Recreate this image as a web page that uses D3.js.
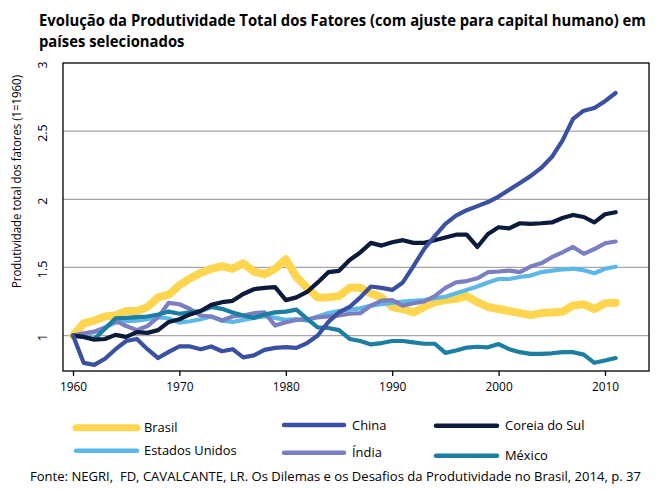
<!DOCTYPE html>
<html><head><meta charset="utf-8">
<script src="https://cdn.jsdelivr.net/npm/d3@7"></script>
<style>body{margin:0;background:#fff}svg{display:block}</style>
</head><body><svg id="c" width="661" height="491"></svg>
<script>
const years = [1960,1961,1962,1963,1964,1965,1966,1967,1968,1969,
  1970,1971,1972,1973,1974,1975,1976,1977,1978,1979,
  1980,1981,1982,1983,1984,1985,1986,1987,1988,1989,
  1990,1991,1992,1993,1994,1995,1996,1997,1998,1999,
  2000,2001,2002,2003,2004,2005,2006,2007,2008,2009,
  2010,2011];
const brasil = [1.00,1.09,1.11,1.14,1.15,1.18,1.18,1.21,1.28,1.30,
  1.37,1.42,1.46,1.49,1.51,1.49,1.53,1.47,1.45,1.49,
  1.56,1.43,1.35,1.28,1.28,1.29,1.35,1.35,1.31,1.28,
  1.21,1.195,1.17,1.21,1.245,1.26,1.27,1.29,1.245,1.21,
  1.195,1.18,1.165,1.15,1.165,1.17,1.175,1.22,1.23,1.195,
  1.237,1.24];
const china = [1.00,0.80,0.785,0.83,0.90,0.96,0.975,0.90,0.835,0.88,
  0.92,0.92,0.90,0.92,0.885,0.90,0.84,0.855,0.895,0.91,
  0.915,0.91,0.945,1.00,1.10,1.17,1.21,1.28,1.36,1.35,
  1.335,1.39,1.51,1.635,1.73,1.82,1.88,1.92,1.95,1.98,
  2.02,2.07,2.12,2.17,2.23,2.31,2.43,2.59,2.65,2.67,
  2.72,2.78];
const coreia = [1.00,0.99,0.97,0.975,1.005,0.99,1.025,1.02,1.04,1.10,
  1.12,1.155,1.18,1.225,1.245,1.255,1.305,1.34,1.35,1.355,
  1.26,1.28,1.32,1.39,1.465,1.475,1.555,1.61,1.68,1.66,
  1.685,1.70,1.68,1.68,1.70,1.72,1.74,1.74,1.65,1.745,
  1.795,1.787,1.824,1.82,1.824,1.83,1.863,1.885,1.87,1.83,
  1.89,1.905];
const eua = [1.00,1.01,1.025,1.06,1.095,1.105,1.11,1.12,1.135,1.125,
  1.095,1.105,1.12,1.14,1.11,1.10,1.115,1.13,1.14,1.13,
  1.115,1.12,1.11,1.14,1.165,1.18,1.19,1.20,1.22,1.23,
  1.24,1.25,1.255,1.26,1.275,1.285,1.31,1.335,1.36,1.39,
  1.415,1.415,1.43,1.44,1.465,1.477,1.485,1.49,1.48,1.457,
  1.49,1.505];
const india = [1.00,1.017,1.03,1.055,1.11,1.07,1.04,1.07,1.135,1.24,
  1.23,1.195,1.147,1.14,1.11,1.14,1.147,1.164,1.17,1.073,
  1.098,1.115,1.12,1.134,1.14,1.147,1.16,1.164,1.22,1.257,
  1.26,1.22,1.237,1.25,1.29,1.35,1.39,1.40,1.42,1.465,
  1.47,1.477,1.465,1.506,1.53,1.575,1.61,1.65,1.60,1.635,
  1.677,1.69];
const mexico = [1.00,0.99,0.975,1.05,1.127,1.13,1.135,1.14,1.155,1.176,
  1.16,1.17,1.18,1.21,1.196,1.17,1.147,1.13,1.154,1.17,
  1.176,1.19,1.122,1.06,1.056,1.04,0.975,0.96,0.935,0.945,
  0.96,0.96,0.95,0.94,0.94,0.873,0.89,0.912,0.918,0.914,
  0.938,0.90,0.878,0.866,0.866,0.87,0.878,0.878,0.86,0.80,
  0.817,0.835];
const seriesNames = ["Brasil","China","Coreia do Sul","Estados Unidos","Índia","México"];
const yTicks = [1, 1.5, 2, 2.5, 3];
const yTickLabels = ["1","1.5","2","2.5","3"];
const xTicks = [1960,1970,1980,1990,2000,2010];
const titleLines = ["Evolução da Produtividade Total dos Fatores (com ajuste para capital humano) em","países selecionados"];
const yLabel = "Produtividade total dos fatores (1=1960)";
const source = "Fonte: NEGRI,  FD, CAVALCANTE, LR. Os Dilemas e os Desafios da Produtividade no Brasil, 2014, p. 37";

const svg = d3.select("#c");
const FONT = "'Open Sans', 'Noto Sans', sans-serif";
const L = 63, R = 649, T = 63, B = 371;
const x = d3.scaleLinear().domain([1960, 2010]).range([73, 605]);
const y = d3.scaleLinear().domain([0.74, 3]).range([B, T]);

const styles = {
  "Brasil": {color:"#fdd54f", w:8, data:brasil},
  "China": {color:"#3a50a2", w:4.2, data:china},
  "Coreia do Sul": {color:"#0c1a3b", w:4.2, data:coreia},
  "Estados Unidos": {color:"#5db8e8", w:4.2, data:eua},
  "Índia": {color:"#7b7fc2", w:4.2, data:india},
  "México": {color:"#1b7ea2", w:4.2, data:mexico}
};

// squeeze text horizontally (narrow font look) keeping its height
function squeeze(sel, ratio) {
  sel.each(function() {
    const w = this.getComputedTextLength();
    d3.select(this).attr("textLength", w * ratio).attr("lengthAdjust", "spacingAndGlyphs");
  });
}

// gridlines
svg.append("g").selectAll("line").data(yTicks.filter(d => d < 3)).join("line")
  .attr("x1", L).attr("x2", R).attr("y1", d => y(d)).attr("y2", d => y(d))
  .attr("stroke", "#a6a6a6").attr("stroke-width", 1.2);

// lines
const line = d3.line().x((d, i) => x(years[i])).y(d => y(d)).curve(d3.curveLinear);
const drawOrder = ["Brasil","Estados Unidos","Índia","México","Coreia do Sul","China"];
svg.append("g").selectAll("path").data(drawOrder).join("path")
  .attr("d", n => line(styles[n].data))
  .attr("fill", "none").attr("stroke", n => styles[n].color)
  .attr("stroke-width", n => styles[n].w)
  .attr("stroke-linejoin", "round").attr("stroke-linecap", "round");

// frame
svg.append("rect").attr("x", L).attr("y", T).attr("width", R - L).attr("height", B - T)
  .attr("fill", "none").attr("stroke", "#000").attr("stroke-width", 1.3);

// x axis
const xAxis = d3.axisBottom(x).tickValues(xTicks).tickFormat(d3.format("d")).tickSize(5).tickPadding(4);
const gx = svg.append("g").attr("transform", `translate(0,${B})`).call(xAxis);
gx.select(".domain").remove();
gx.selectAll(".tick line").attr("stroke", "#000").attr("stroke-width", 1.3);
gx.selectAll(".tick text").attr("font-family", FONT).attr("font-size", 13.5).attr("fill", "#000")
  .attr("dy", null).attr("y", 19.5);
squeeze(gx.selectAll(".tick text"), 0.88);

// y tick labels (rotated)
const yt = svg.append("g").selectAll("text").data(yTicks).join("text")
  .attr("transform", d => `translate(47,${y(d) + 2}) rotate(-90)`)
  .attr("text-anchor", "middle").attr("font-family", FONT).attr("font-size", 13.5)
  .text((d, i) => yTickLabels[i]);
squeeze(yt, 0.92);

// y label
const yl = svg.append("text")
  .attr("transform", `translate(21,181.5) rotate(-90)`)
  .attr("text-anchor", "middle").attr("font-family", FONT).attr("font-size", 12.5)
  .text(yLabel);
yl.attr("textLength", 213).attr("lengthAdjust", "spacingAndGlyphs");

// title: font size chosen so line 1 naturally spans 607px, then stretched vertically
const titleG = svg.append("g");
const t1 = titleG.append("text").attr("font-family", FONT).attr("font-weight", "bold")
  .attr("font-size", 15.5).text(titleLines[0]);
const fs = 15.5 * 607 / t1.node().getComputedTextLength();
const vs = 15.5 / fs;
t1.attr("font-size", fs).attr("transform", `translate(39,25.5) scale(1,${vs})`);
titleG.append("text").attr("font-family", FONT).attr("font-weight", "bold")
  .attr("font-size", fs).attr("transform", `translate(39,46.5) scale(1,${vs})`).text(titleLines[1]);

// legend
const legendPos = {
  "Brasil": [73, 140, 427.7, 144, 432],
  "China": [281, 347, 425, 352, 430],
  "Coreia do Sul": [433, 500, 425.7, 505, 430],
  "Estados Unidos": [73, 140, 450.7, 144, 455],
  "Índia": [281, 347, 452.7, 352, 456.7],
  "México": [433, 500, 455.7, 505, 460]
};
const lg = svg.append("g");
const legFont = 13.5;
seriesNames.forEach(n => {
  const p = legendPos[n];
  lg.append("line").attr("x1", p[0] + 3).attr("x2", p[1] - 3).attr("y1", p[2]).attr("y2", p[2])
    .attr("stroke", styles[n].color).attr("stroke-width", n === "Brasil" ? 7 : 4.5)
    .attr("stroke-linecap", "round");
  lg.append("text").attr("class", "lt").attr("x", p[3]).attr("y", p[4])
    .attr("font-family", FONT).attr("font-size", legFont).text(n);
});
const eu = lg.selectAll("text.lt").filter(function(){ return this.textContent === "Estados Unidos"; });
const legRatio = 92.7 / eu.node().getComputedTextLength();
squeeze(lg.selectAll("text.lt"), legRatio);

// source
const src = svg.append("text").attr("x", 30).attr("y", 480.5)
  .attr("font-family", FONT).attr("font-size", 13.5).style("white-space", "pre").text(source);
src.attr("textLength", 611).attr("lengthAdjust", "spacingAndGlyphs");
</script>
</body></html>
